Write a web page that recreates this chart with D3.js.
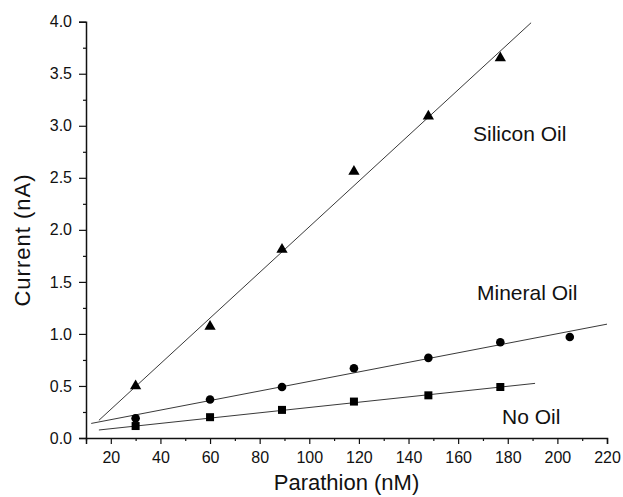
<!DOCTYPE html>
<html>
<head>
<meta charset="utf-8">
<script src="https://cdn.jsdelivr.net/npm/d3@7"></script>
<style>
  html, body { margin: 0; padding: 0; background: #fff; }
  text { font-family: "Liberation Sans", Arial, Helvetica, sans-serif; fill: #111; }
</style>
</head>
<body>
<svg id="chart" width="623" height="497"></svg>
<script>
// ---- data ----
const parathion = [30, 60, 89, 118, 148, 177];
const parathionMineral = [30, 60, 89, 118, 148, 177, 205];
const siliconOil = [0.51, 1.08, 1.82, 2.57, 3.10, 3.66];
const mineralOil = [0.19, 0.37, 0.49, 0.67, 0.77, 0.92, 0.97];
const noOil = [0.115, 0.20, 0.27, 0.35, 0.41, 0.49];
// fitted lines: [x, y] end points
const siliconFit = [[15.2, 0.17], [189.4, 3.99]];
const mineralFit = [[12.1, 0.14], [220, 1.094]];
const noOilFit = [[15.2, 0.077], [191, 0.525]];
const xMajorTicks = [20, 40, 60, 80, 100, 120, 140, 160, 180, 200, 220];
const xMinorTicks = [10, 30, 50, 70, 90, 110, 130, 150, 170, 190, 210];
const yMajorTicks = [0, 0.5, 1.0, 1.5, 2.0, 2.5, 3.0, 3.5, 4.0];
const yMinorTicks = [0.25, 0.75, 1.25, 1.75, 2.25, 2.75, 3.25, 3.75];
const seriesLabels = ["Silicon Oil", "Mineral Oil", "No Oil"];

const svg = d3.select("#chart");
const x = d3.scaleLinear().domain([10, 220]).range([86, 607]);
const y = d3.scaleLinear().domain([0, 4]).range([438, 21.7]);

// axes
const xAxisMaj = d3.axisBottom(x).tickValues(xMajorTicks).tickSize(6).tickPadding(8).tickFormat(d3.format("d"));
const xAxisMin = d3.axisBottom(x).tickValues(xMinorTicks).tickSize(3).tickFormat("");
const yAxisMaj = d3.axisLeft(y).tickValues(yMajorTicks).tickSize(7).tickPadding(7).tickFormat(d3.format(".1f"));
const yAxisMin = d3.axisLeft(y).tickValues(yMinorTicks).tickSize(3).tickFormat("");

function style(g) {
  g.select(".domain").attr("stroke", "#111").attr("stroke-width", 1.5);
  g.selectAll(".tick line").attr("stroke", "#111").attr("stroke-width", 1.2);
  g.selectAll(".tick text").style("font-size", "16px").attr("fill", "#111")
    .style("font-family", "'Liberation Sans', Arial, sans-serif");
}
svg.append("g").attr("transform", `translate(0,${y(0)})`).call(xAxisMin).call(style).select(".domain").remove();
svg.append("g").attr("transform", `translate(0,${y(0)})`).call(xAxisMaj).call(style);
svg.append("g").attr("transform", `translate(${x(10)},0)`).call(yAxisMin).call(style).select(".domain").remove();
svg.append("g").attr("transform", `translate(${x(10)},0)`).call(yAxisMaj).call(style);

// axis titles
svg.append("text").attr("x", (x(10) + x(220)) / 2).attr("y", 490)
  .attr("text-anchor", "middle").style("font-size", "22px").text("Parathion (nM)");
svg.append("text").attr("transform", "translate(30,240) rotate(-90)")
  .attr("text-anchor", "middle").style("font-size", "22px").style("letter-spacing", "1px").text("Current (nA)");

// fit lines
const line = d3.line().x(d => x(d[0])).y(d => y(d[1]));
[siliconFit, mineralFit, noOilFit].forEach(f => {
  svg.append("path").attr("d", line(f)).attr("fill", "none").attr("stroke", "#222").attr("stroke-width", 0.9);
});

// markers
const tri = d3.symbol().type(d3.symbolTriangle).size(55);
svg.append("g").selectAll("path").data(parathion.map((d, i) => [d, siliconOil[i]])).join("path")
  .attr("d", tri).attr("transform", d => `translate(${x(d[0])},${y(d[1]) + 1})`).attr("fill", "#000");
svg.append("g").selectAll("circle").data(parathionMineral.map((d, i) => [d, mineralOil[i]])).join("circle")
  .attr("cx", d => x(d[0])).attr("cy", d => y(d[1])).attr("r", 4.3).attr("fill", "#000");
svg.append("g").selectAll("rect").data(parathion.map((d, i) => [d, noOil[i]])).join("rect")
  .attr("x", d => x(d[0]) - 4).attr("y", d => y(d[1]) - 4).attr("width", 8).attr("height", 8).attr("fill", "#000");

// series labels
const labelPos = [[473, 141], [477, 300], [502, 424]];
seriesLabels.forEach((t, i) => {
  svg.append("text").attr("x", labelPos[i][0]).attr("y", labelPos[i][1])
    .style("font-size", "21px").text(t);
});
</script>
</body>
</html>
